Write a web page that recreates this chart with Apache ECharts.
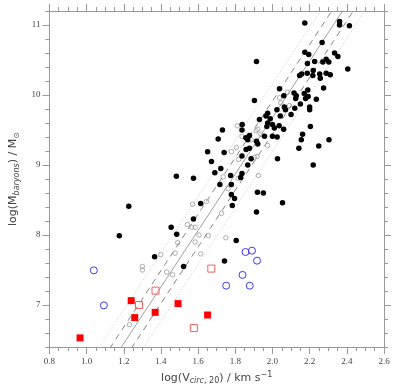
<!DOCTYPE html>
<html><head><meta charset="utf-8">
<script src="https://cdn.jsdelivr.net/npm/echarts@6/dist/echarts.min.js"></script>
<style>html,body{margin:0;padding:0;background:#fff}#c{width:400px;height:390px}</style>
</head><body><div id="c"></div>
<script>
const xTicks = [0.8,1.0,1.2,1.4,1.6,1.8,2.0,2.2,2.4,2.6];
const yTicks = [7,8,9,10,11];

const blackFilled = [
[2.174,11.03],[2.361,11.05],[2.361,11.0],[2.414,10.99],[2.267,10.75],[1.914,10.48],
[2.174,10.61],[2.195,10.58],[2.188,10.45],[2.227,10.48],[2.271,10.47],[2.289,10.51],[2.303,10.47],
[2.334,10.6],[2.352,10.55],[2.405,10.37],
[2.187,10.31],[2.146,10.28],[2.157,10.3],[2.219,10.35],[2.217,10.28],[2.254,10.3],[2.257,10.24],[2.289,10.31],[2.311,10.29],
[2.275,10.1],[2.038,10.09],[1.903,9.92],[2.061,9.99],[2.116,10.03],[2.128,9.99],[2.125,9.95],[2.171,10.02],[2.178,9.95],[2.192,9.98],[2.19,10.07],[2.236,9.94],
[2.2,9.83],[2.2,9.79],[2.15,9.87],[2.12,9.81],[2.1,9.72],[2.07,9.79],[2.064,9.83],[2.024,9.79],[2.042,9.7],
[1.974,9.74],[1.965,9.7],[1.93,9.65],[1.988,9.66],[1.974,9.6],[2.0,9.58],[2.01,9.53],[2.036,9.56],[1.97,9.55],[2.06,9.51],
[1.957,9.41],[2.0,9.41],[2.025,9.4],
[1.837,9.58],[1.836,9.5],[1.731,9.5],[1.708,9.37],[1.857,9.39],[1.876,9.42],[1.867,9.36],[1.914,9.34],[1.921,9.3],
[1.858,9.22],[1.876,9.24],[1.836,9.13],[1.885,9.09],[1.651,9.19],[1.74,9.18],[1.672,9.05],[1.867,9.0],[1.722,8.95],[1.69,8.89],[1.836,8.88],[1.717,8.72],[1.775,8.85],[1.779,8.72],[1.829,8.82],
[1.779,8.58],[1.796,8.52],[1.784,8.42],[1.919,8.61],[1.951,8.6],[1.914,8.33],[2.054,8.46],[2.027,9.09],
[2.142,9.24],[2.155,9.36],[2.162,9.44],[2.204,9.55],[2.249,9.27],[2.304,9.36],[2.219,9.0],
[1.575,8.81],[1.483,8.84],[1.614,8.45],[1.575,8.23],[1.227,8.41],[1.176,7.99],[1.455,8.11],[1.485,8.01],[1.366,7.69],[1.522,7.55],[1.805,7.92],[1.742,7.63]
];

const grayOpen = [
[2.081,10.04],[2.038,9.96],[2.091,9.85],[2.045,9.89],[1.811,9.56],[1.836,9.41],[1.921,9.51],[1.912,9.49],[1.938,9.44],[1.885,9.36],
[1.806,9.25],[1.779,9.19],[1.818,9.08],[1.917,9.12],[1.903,9.11],[1.974,9.28],[1.735,8.83],[1.815,8.81],[1.925,8.85],[1.761,8.66],
[1.726,8.31],[1.645,8.48],[1.57,8.44],[1.543,8.15],[1.566,8.11],[1.584,8.11],[1.605,8.0],[1.655,7.99],[1.749,7.96],[1.584,7.9],
[1.49,7.89],[1.476,7.74],[1.399,7.72],[1.614,7.73],[1.3,7.55],[1.3,7.5],[1.431,7.47],[1.463,7.43],[1.231,6.72]
];

const blueOpen = [
[1.039,7.495],[1.093,6.995],[1.751,7.276],[1.839,7.43],[1.878,7.276],[1.855,7.757],[1.89,7.776],[1.917,7.633]
];

const redFilled = [
[0.965,6.53],[1.24,7.062],[1.259,6.82],[1.369,6.895],[1.492,7.02],[1.651,6.857]
];

const redOpen = [
[1.282,7.0],[1.371,7.205],[1.671,7.52],[1.577,6.67]
];

const fitSolid = [[1.15,6.248],[2.45,11.495]];
const fitDashLo = [[1.092,6.248],[2.392,11.495]];
const fitDashHi = [[1.208,6.248],[2.508,11.495]];
const fitDotLo = [[1.03,6.248],[2.33,11.495]];
const fitDotHi = [[1.27,6.248],[2.57,11.495]];

const xMin = 0.8, xMax = 2.6, yMin = 6.4, yMax = 11.2;
const axisColor = '#999';
const labelColor = '#444';

const chart = echarts.init(document.getElementById('c'), null, {renderer:'canvas'});

const richName = {
  n: {fontSize: 11, color: '#444', fontFamily: 'DejaVu Sans', lineHeight: 14},
  s: {fontSize: 8, color: '#444', fontFamily: 'DejaVu Sans', fontStyle: 'italic', verticalAlign: 'bottom', lineHeight: 8},
  t: {fontSize: 8, color: '#444', fontFamily: 'DejaVu Sans', verticalAlign: 'bottom', lineHeight: 8},
  p: {fontSize: 8, color: '#444', fontFamily: 'DejaVu Sans', verticalAlign: 'top', lineHeight: 8}
};

function xAx(pos, showLabel) {
  return {
    type: 'value', position: pos, min: xMin, max: xMax, interval: 0.2,
    axisLine: {show: true, onZero: false, lineStyle: {color: axisColor, width: 1}},
    axisTick: {show: true, inside: false, length: 7, lineStyle: {color: axisColor}},
    minorTick: {show: true, splitNumber: 4, length: 4, lineStyle: {color: axisColor}},
    splitLine: {show: false}, minorSplitLine: {show: false},
    axisLabel: {show: showLabel, margin: 10, fontSize: 9, fontFamily: 'Liberation Serif, DejaVu Serif, serif', color: labelColor,
      formatter: v => v.toFixed(1)}
  };
}
function yMinor(pos) {
  return {
    type: 'value', position: pos, min: yMin, max: yMax, interval: 0.2,
    axisLine: {show: true, onZero: false, lineStyle: {color: axisColor, width: 1}},
    axisTick: {show: true, length: 4, lineStyle: {color: axisColor}},
    splitLine: {show: false},
    axisLabel: {show: false}
  };
}
function yMajor(pos, showLabel) {
  return {
    type: 'value', position: pos, min: yMin, max: yMax,
    axisLine: {show: false, onZero: false},
    axisTick: {show: true, length: 7, customValues: yTicks, lineStyle: {color: axisColor}},
    splitLine: {show: false},
    axisLabel: {show: showLabel, customValues: yTicks, margin: 9, fontSize: 9, fontFamily: 'Liberation Serif, DejaVu Serif, serif', color: labelColor}
  };
}

const xA0 = xAx('bottom', true);
xA0.name = '{n|log(V}{s|circ}{t|, 20}{n|) / km s}{p|−1}';
xA0.nameLocation = 'middle';
xA0.nameGap = 22;
xA0.nameTextStyle = {rich: richName};

const yA0 = yMajor('left', true);
yA0.name = '{n|log(M}{s|baryons}{n|) / M}{t|⊙}';
yA0.nameLocation = 'middle';
yA0.nameGap = 25;
yA0.nameRotate = 90;
yA0.nameTextStyle = {rich: richName};

function lineSeries(data, style) {
  return {type: 'line', data: data, symbol: 'none', silent: true, clip: true, xAxisIndex: 0, yAxisIndex: 0,
    lineStyle: style, z: 1, animation: false};
}
function scatter(data, opts) {
  return Object.assign({type: 'scatter', data: data, xAxisIndex: 0, yAxisIndex: 0, silent: true, animation: false}, opts);
}

chart.setOption({
  animation: false,
  backgroundColor: '#fff',
  grid: {left: 46, right: 16, top: 11, bottom: 43, containLabel: false},
  xAxis: [xA0, xAx('top', false)],
  yAxis: [yA0, yMinor('left'), yMinor('right'), yMajor('right', false)],
  series: [
    lineSeries(fitDotLo, {color: '#bbb', width: 0.8, type: [1, 2]}),
    lineSeries(fitDotHi, {color: '#bbb', width: 0.8, type: [1, 2]}),
    lineSeries(fitDashLo, {color: '#666', width: 0.8, type: [6, 5]}),
    lineSeries(fitDashHi, {color: '#666', width: 0.8, type: [6, 5]}),
    lineSeries(fitSolid, {color: '#888', width: 0.8, type: 'solid'}),
    scatter(grayOpen, {symbol: 'circle', symbolSize: 4.5, itemStyle: {color: 'rgba(0,0,0,0)', borderColor: '#999', borderWidth: 0.8, opacity: 1}, z: 2}),
    scatter(blackFilled, {symbol: 'circle', symbolSize: 5.5, itemStyle: {color: '#000', opacity: 1}, z: 3}),
    scatter(blueOpen, {symbol: 'circle', symbolSize: 7, itemStyle: {color: 'rgba(0,0,0,0)', borderColor: '#3a3af0', borderWidth: 1, opacity: 1}, z: 4}),
    scatter(redOpen, {symbol: 'rect', symbolSize: 7, itemStyle: {color: 'rgba(0,0,0,0)', borderColor: '#f06060', borderWidth: 1, opacity: 1}, z: 4}),
    scatter(redFilled, {symbol: 'rect', symbolSize: 7, itemStyle: {color: '#ff0000', opacity: 1}, z: 5})
  ]
});
</script></body></html>
